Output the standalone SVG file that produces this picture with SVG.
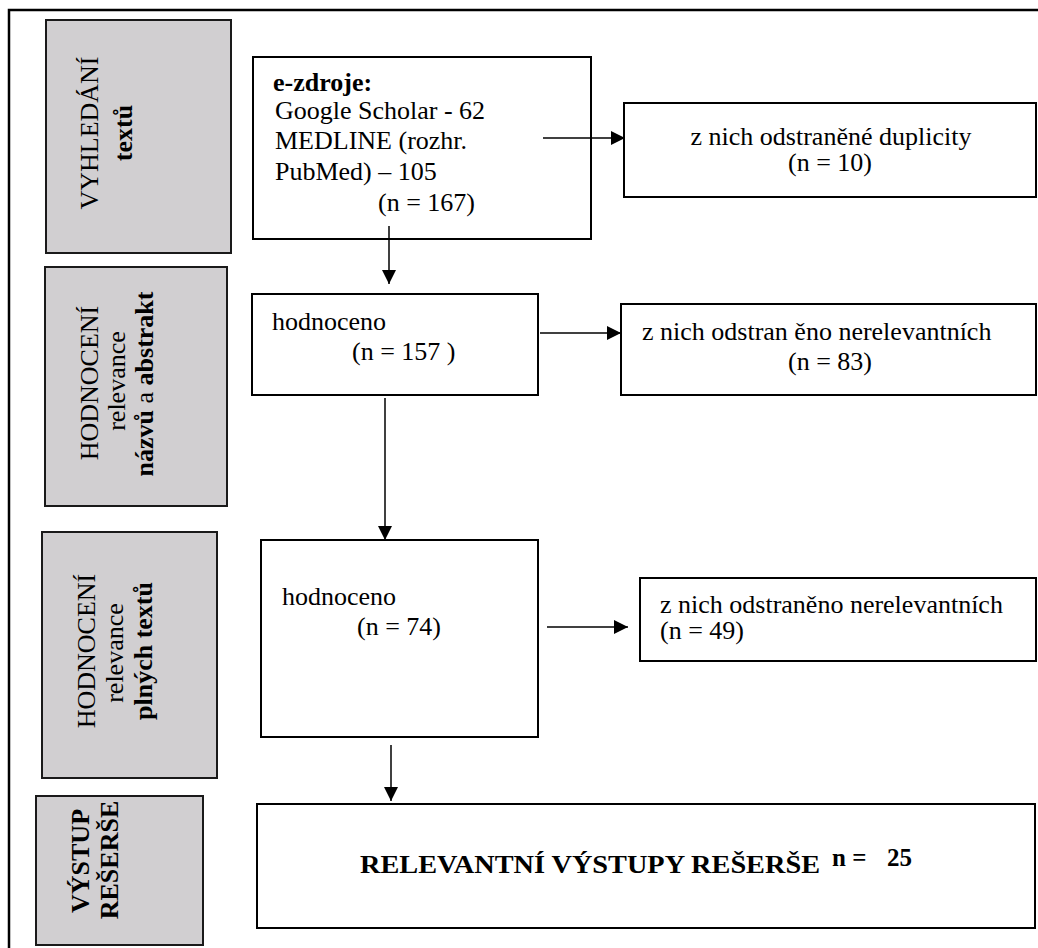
<svg xmlns="http://www.w3.org/2000/svg" width="1038" height="948" viewBox="0 0 1038 948">
<defs>
<marker id="ah" viewBox="0 0 14 14" refX="14" refY="7" markerWidth="14" markerHeight="14" markerUnits="userSpaceOnUse" orient="auto">
<path d="M0,0 L14,7 L0,14 Z" fill="#000"/>
</marker>
<style>
.frame{fill:none;stroke:#000;stroke-width:2.5}
.gray{fill:#d1cfd1;stroke:#1a1a1a;stroke-width:2}
.box{fill:#fff;stroke:#000;stroke-width:2}
.t{font-family:"Liberation Serif","Times New Roman",serif;font-size:26px;fill:#000}
.b{font-weight:bold}
.c{text-anchor:middle}
.conn{stroke:#000;stroke-width:1.5;fill:none;marker-end:url(#ah)}
</style>
</defs>
<rect width="1038" height="948" fill="#fff"/>
<path class="frame" d="M9,948 L9,10 L1040,10"/>

<g id="stage1">
<rect class="gray" x="46" y="20" width="185" height="233"/>
<text class="t c" transform="translate(98,133) rotate(-90)">VYHLEDÁNÍ</text>
<text class="t c b" transform="translate(132,133) rotate(-90)">textů</text>
</g>
<g id="stage2">
<rect class="gray" x="45" y="267" width="182" height="239"/>
<text class="t c" transform="translate(98,383) rotate(-90)">HODNOCENÍ</text>
<text class="t c" transform="translate(125,381) rotate(-90)">relevance</text>
<text class="t c" transform="translate(153,384) rotate(-90)"><tspan class="b">názvů</tspan> a <tspan class="b">abstrakt</tspan></text>
</g>
<g id="stage3">
<rect class="gray" x="42" y="532" width="175" height="246"/>
<text class="t c" transform="translate(95,651) rotate(-90)">HODNOCENÍ</text>
<text class="t c" transform="translate(123,653) rotate(-90)">relevance</text>
<text class="t c b" transform="translate(152,651) rotate(-90)">plných textů</text>
</g>
<g id="stage4">
<rect class="gray" x="36" y="796" width="167" height="149"/>
<text class="t c b" transform="translate(89,861) rotate(-90)">VÝSTUP</text>
<text class="t c b" transform="translate(118,860) rotate(-90)">REŠERŠE</text>
</g>

<g id="sources">
<rect class="box" x="253" y="57" width="338" height="182"/>
<text class="t b" x="273" y="91">e-zdroje:</text>
<text class="t" x="275" y="119">Google Scholar - 62</text>
<text class="t" x="275" y="149">MEDLINE (rozhr.</text>
<text class="t" x="275" y="180">PubMed) – 105</text>
<text class="t" x="378" y="211">(n = 167)</text>
</g>
<g id="duplicates">
<rect class="box" x="624" y="103" width="412" height="94"/>
<text class="t c" x="831" y="145">z nich odstraněné duplicity</text>
<text class="t c" x="830" y="171">(n = 10)</text>
</g>
<g id="screened">
<rect class="box" x="252" y="294" width="286" height="101"/>
<text class="t" x="272" y="330">hodnoceno</text>
<text class="t" x="352" y="360">(n = 157 )</text>
</g>
<g id="excluded1">
<rect class="box" x="621" y="304" width="415" height="91"/>
<text class="t" x="642" y="340">z nich odstran ěno nerelevantních</text>
<text class="t c" x="830" y="370">(n = 83)</text>
</g>
<g id="fulltext">
<rect class="box" x="261" y="540" width="277" height="197"/>
<text class="t" x="282" y="605">hodnoceno</text>
<text class="t" x="357" y="635">(n = 74)</text>
</g>
<g id="excluded2">
<rect class="box" x="640" y="578" width="396" height="83"/>
<text class="t" x="660" y="613">z nich odstraněno nerelevantních</text>
<text class="t" x="660" y="639">(n = 49)</text>
</g>
<g id="result">
<rect class="box" x="257" y="804" width="778" height="124"/>
<text class="t b" x="360" y="873" textLength="460" lengthAdjust="spacingAndGlyphs">RELEVANTNÍ VÝSTUPY REŠERŠE</text>
<text class="t b" x="832" y="866" style="font-size:25px">n =</text>
<text class="t b" x="887" y="866" style="font-size:25px">25</text>
</g>

<g id="connectors">
<line class="conn" x1="389" y1="226" x2="389" y2="284"/>
<line class="conn" x1="543" y1="138" x2="625" y2="138"/>
<line class="conn" x1="540" y1="333" x2="621" y2="333"/>
<line class="conn" x1="385" y1="398" x2="385" y2="540"/>
<line class="conn" x1="547" y1="627" x2="628" y2="627"/>
<line class="conn" x1="391" y1="745" x2="391" y2="801"/>
</g>
</svg>
